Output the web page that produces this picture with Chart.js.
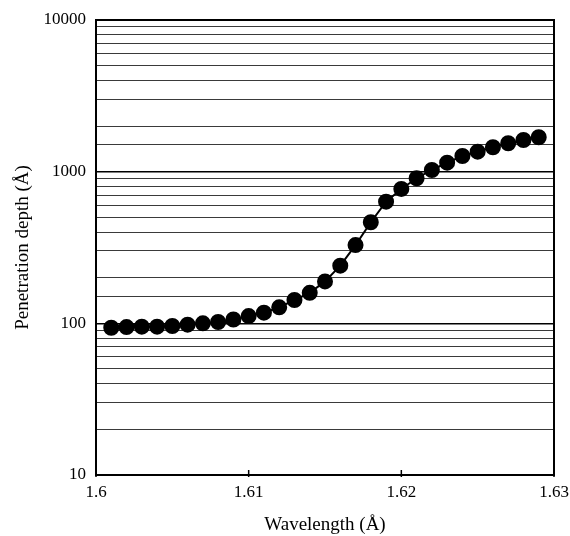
<!DOCTYPE html>
<html>
<head>
<meta charset="utf-8">
<script src="https://cdn.jsdelivr.net/npm/chart.js@4"></script>
<style>
  html, body { margin: 0; padding: 0; background: #fff; }
  #wrap { width: 570px; height: 536px; }
</style>
</head>
<body>
<div id="wrap"><canvas id="c" width="570" height="536"></canvas></div>
<script>
// Wavelength (Å)
const wavelengths = [1.601, 1.602, 1.603, 1.604, 1.605, 1.606, 1.607, 1.608, 1.609, 1.610,
                     1.611, 1.612, 1.613, 1.614, 1.615, 1.616, 1.617, 1.618, 1.619, 1.620,
                     1.621, 1.622, 1.623, 1.624, 1.625, 1.626, 1.627, 1.628, 1.629];
// Penetration depth (Å)
const depths = [93.5, 94.5, 95, 95, 96, 98, 100, 102, 106, 111.7,
                117.5, 127.5, 142.5, 159, 189, 240, 328, 464, 634, 769,
                905, 1026, 1147, 1269, 1355, 1449, 1539, 1618, 1686];
const xTickValues = [1.6, 1.61, 1.62, 1.63];
const yMajorTicks = [10, 100, 1000, 10000];
const xTitle = 'Wavelength (Å)';
const yTitle = 'Penetration depth (Å)';

const points = wavelengths.map((w, i) => ({ x: w, y: depths[i] }));

const frame = {
  id: 'frame',
  afterDraw(chart) {
    const { ctx, chartArea: a, scales } = chart;
    ctx.save();
    ctx.strokeStyle = '#000';
    ctx.lineWidth = 2;
    ctx.strokeRect(a.left, a.top, a.right - a.left, a.bottom - a.top);
    // inward tick marks on x axis
    ctx.lineWidth = 1.5;
    xTickValues.forEach(v => {
      const px = scales.x.getPixelForValue(v);
      ctx.beginPath();
      ctx.moveTo(px, a.bottom + 2);
      ctx.lineTo(px, a.bottom - 5);
      ctx.stroke();
    });
    ctx.restore();
  }
};

const isMajor = v => yMajorTicks.some(m => Math.abs(m - v) < 1e-6);

new Chart(document.getElementById('c'), {
  type: 'scatter',
  data: {
    datasets: [{
      data: points,
      showLine: true,
      borderColor: '#000',
      borderWidth: 2,
      backgroundColor: '#000',
      pointBackgroundColor: '#000',
      pointBorderColor: '#000',
      pointRadius: 7,
      pointHoverRadius: 7,
      tension: 0
    }]
  },
  options: {
    responsive: false,
    devicePixelRatio: 1,
    animation: false,
    layout: { padding: { top: 20, right: 16, bottom: 0, left: 0 } },
    plugins: { legend: { display: false }, tooltip: { enabled: false } },
    scales: {
      x: {
        type: 'linear',
        min: 1.6,
        max: 1.63,
        afterFit(s) { s.height = 61; s.paddingLeft = 0; s.paddingRight = 0; },
        afterBuildTicks(s) { s.ticks = xTickValues.map(v => ({ value: v })); },
        grid: { display: false, drawTicks: false },
        border: { display: true, color: '#000', width: 2 },
        ticks: {
          padding: 7,
          color: '#000',
          font: { family: 'Liberation Serif', size: 17 },
          maxRotation: 0,
          callback: v => String(Math.round(v * 1000) / 1000)
        },
        title: {
          display: true,
          text: xTitle,
          color: '#000',
          font: { family: 'Liberation Serif', size: 19 },
          padding: { top: 8, bottom: 0 }
        }
      },
      y: {
        type: 'logarithmic',
        min: 10,
        max: 10000,
        afterFit(s) { s.width = 96; s.paddingTop = 0; s.paddingBottom = 0; },
        grid: {
          drawTicks: false,
          color: ctx => (ctx.tick && isMajor(ctx.tick.value)) ? '#000' : '#3a3a3a',
          lineWidth: ctx => (ctx.tick && isMajor(ctx.tick.value)) ? 1.5 : 1
        },
        border: { display: true, color: '#000', width: 2 },
        ticks: {
          padding: 10,
          color: '#000',
          autoSkip: false,
          font: { family: 'Liberation Serif', size: 17 },
          callback: v => isMajor(v) ? String(v) : ''
        },
        title: {
          display: true,
          text: yTitle,
          color: '#000',
          font: { family: 'Liberation Serif', size: 19 },
          padding: { top: 12, bottom: 0 }
        }
      }
    }
  },
  plugins: [frame]
});
</script>
</body>
</html>
